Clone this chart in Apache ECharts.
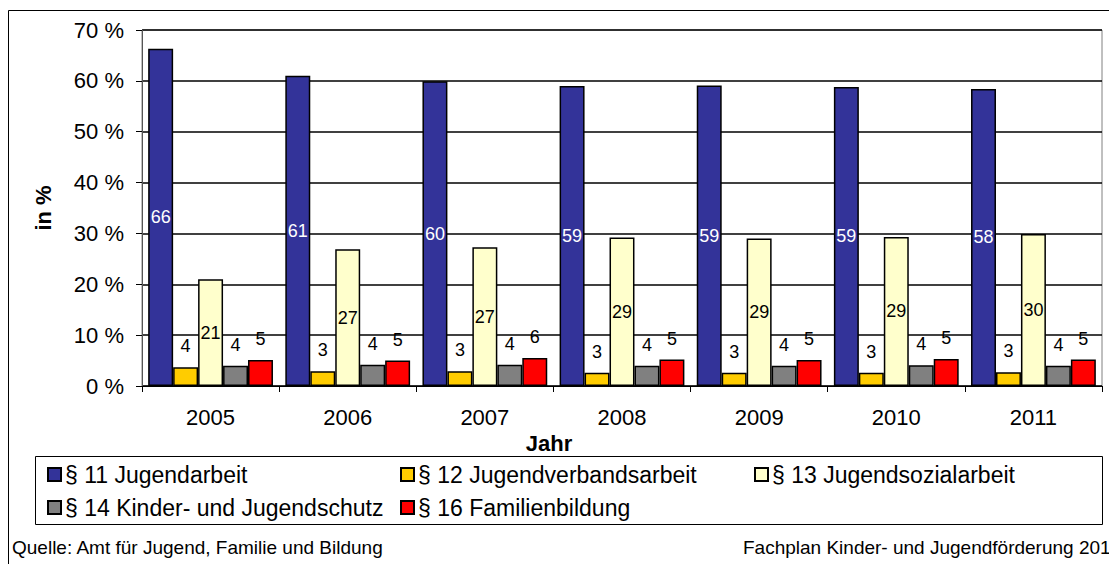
<!DOCTYPE html>
<html>
<head>
<meta charset="utf-8">
<script src="https://cdn.jsdelivr.net/npm/echarts@6/dist/echarts.min.js"></script>
<style>
html,body{margin:0;padding:0;background:#fff;}
#c{width:1109px;height:564px;}
</style>
</head>
<body>
<div id="c"></div>
<script>
var years = ['2005','2006','2007','2008','2009','2010','2011'];
var names = ['§ 11 Jugendarbeit','§ 12 Jugendverbandsarbeit','§ 13 Jugendsozialarbeit','§ 14 Kinder- und Jugendschutz','§ 16 Familienbildung'];
var s11 = [66.3, 61.0, 59.9, 59.0, 59.1, 58.8, 58.4];
var s12 = [3.7, 2.9, 2.9, 2.6, 2.6, 2.6, 2.7];
var s13 = [21.0, 26.9, 27.3, 29.2, 29.0, 29.3, 29.9];
var s14 = [4.0, 4.2, 4.2, 4.0, 4.0, 4.1, 4.0];
var s16 = [5.1, 5.0, 5.5, 5.2, 5.1, 5.3, 5.2];
var yTicks = {min: 0, max: 70, interval: 10};
var sourceText = 'Quelle: Amt für Jugend, Familie und Bildung';
var planText = 'Fachplan Kinder- und Jugendförderung 2012';

var FONT = '"Liberation Sans", Arial, sans-serif';
var colors = ['#333399','#FFCC00','#FFFFCC','#808080','#FF0000'];
var datas = [s11, s12, s13, s14, s16];
var labelCfg = [
  {show:true, position:'inside', color:'#ffffff'},
  {show:true, position:'top', distance:12, color:'#000'},
  {show:true, position:'inside', color:'#000'},
  {show:true, position:'top', distance:12, color:'#000'},
  {show:true, position:'top', distance:12, color:'#000'}
];
var series = datas.map(function(d, i){
  var lab = Object.assign({fontFamily: FONT, fontSize: 18, formatter: function(p){ return Math.round(p.value); }}, labelCfg[i]);
  return {
    name: names[i], type: 'bar', data: d,
    barGap: '0%', barCategoryGap: '9%',
    itemStyle: {color: colors[i], borderColor: '#000', borderWidth: 1.5},
    label: lab,
    emphasis: {disabled: true}
  };
});
var legendPos = [[47,463],[400,463],[754,463],[47,496],[400,496]];
var legends = names.map(function(n, i){
  return {
    data: [n], left: legendPos[i][0], top: legendPos[i][1],
    itemWidth: 13, itemHeight: 13, icon: 'rect', itemGap: 0,
    padding: 0,
    textStyle: {fontFamily: FONT, fontSize: 23, color: '#000', padding: [0,0,0,-1]},
    selectedMode: false
  };
});

var chart = echarts.init(document.getElementById('c'), null, {renderer: 'svg'});
chart.setOption({
  animation: false,
  backgroundColor: '#fff',
  color: colors,
  grid: {left: 142, right: 7, top: 30, bottom: 178, show: true, borderColor: '#808080', borderWidth: 1, backgroundColor: 'transparent'},
  legend: legends,
  xAxis: {
    type: 'category', data: years,
    name: 'Jahr', nameLocation: 'middle', nameGap: 37,
    nameTextStyle: {fontFamily: FONT, fontSize: 22, fontWeight: 'bold', color: '#000', padding: [0, 146, 0, 0]},
    axisLine: {lineStyle: {color: '#000', width: 1}},
    axisTick: {show: true, length: 6, lineStyle: {color: '#000'}},
    axisLabel: {fontFamily: FONT, fontSize: 22, color: '#000', margin: 20}
  },
  yAxis: {
    type: 'value', min: yTicks.min, max: yTicks.max, interval: yTicks.interval,
    name: 'in %', nameLocation: 'middle', nameGap: 88,
    nameTextStyle: {fontFamily: FONT, fontSize: 22, fontWeight: 'bold', color: '#000'},
    axisLine: {show: true, lineStyle: {color: '#555', width: 1}},
    axisTick: {show: true, length: 6, lineStyle: {color: '#000'}},
    axisLabel: {fontFamily: FONT, fontSize: 22, color: '#000', margin: 18, formatter: '{value} %'},
    splitLine: {show: true, lineStyle: {color: '#000', width: 1.5}}
  },
  series: series,
  graphic: [
    {type: 'rect', shape: {x: 8.5, y: 10.5, width: 1200, height: 600}, style: {fill: 'none', stroke: '#000', lineWidth: 1}, silent: true, z: -1},
    {type: 'rect', shape: {x: 35.5, y: 456.5, width: 1067, height: 68}, style: {fill: 'none', stroke: '#000', lineWidth: 1}, silent: true},
    {type: 'text', left: 12, top: 538, style: {text: sourceText, font: '19px ' + FONT, fill: '#000'}},
    {type: 'text', left: 743, top: 538, style: {text: planText, font: '19px ' + FONT, fill: '#000'}}
  ]
});
</script>
</body>
</html>
